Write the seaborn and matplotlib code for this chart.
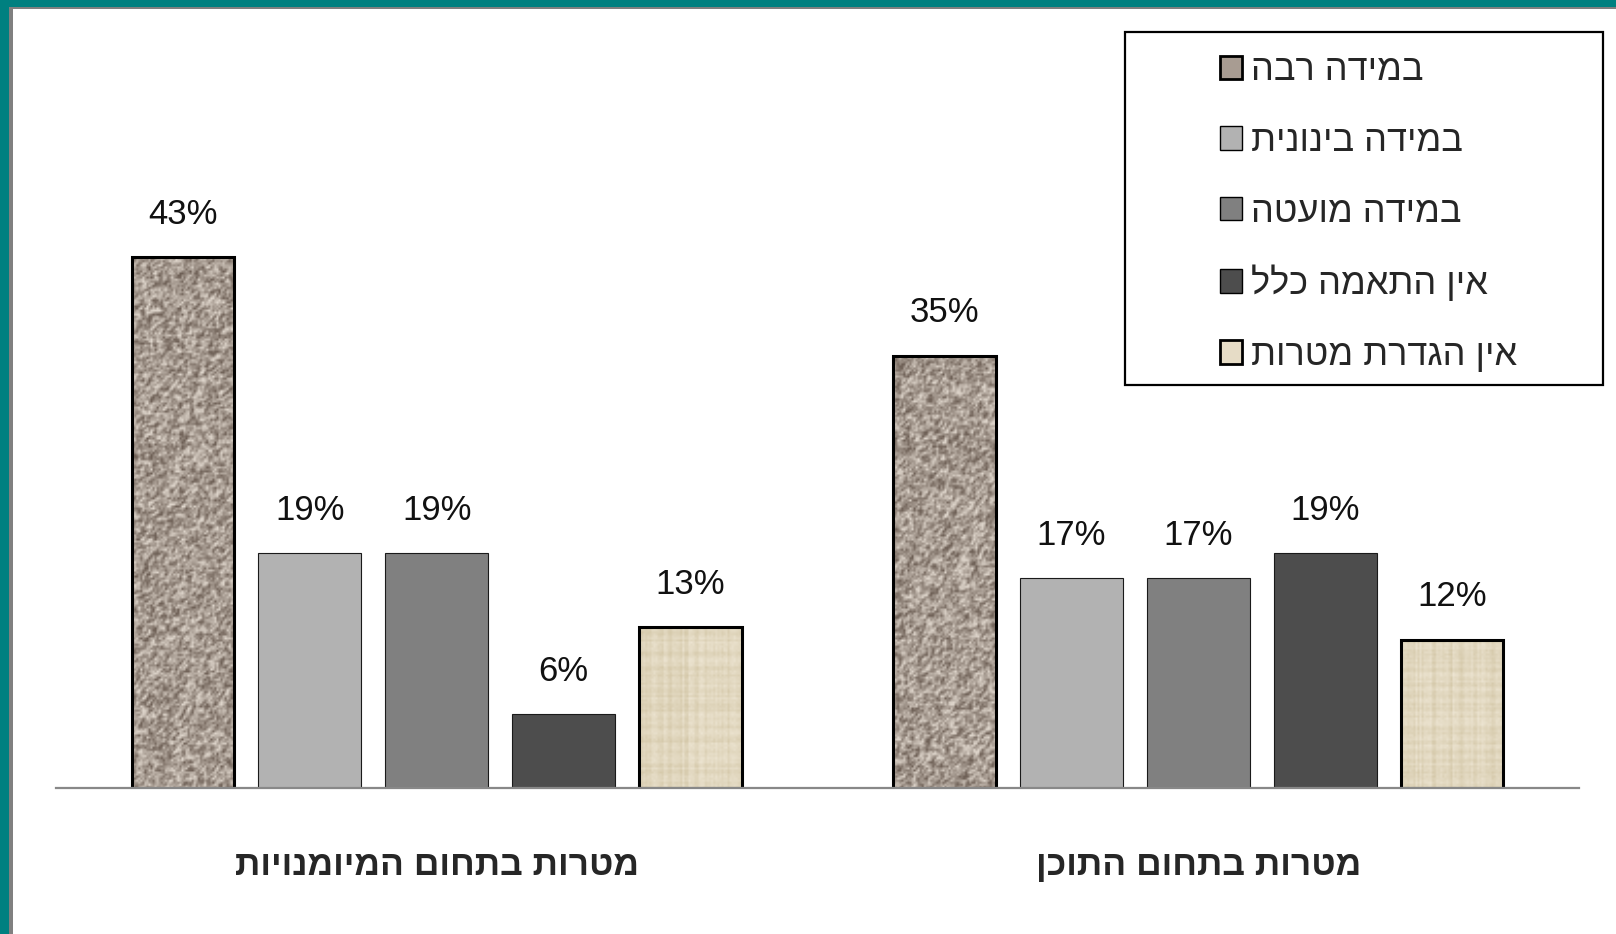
import numpy as np
import pandas as pd
import matplotlib
matplotlib.use('Agg')
import matplotlib.pyplot as plt
import seaborn as sns
from matplotlib.patches import Rectangle, Patch

# data
groups = ['מטרות בתחום המיומנויות', 'מטרות בתחום התוכן']
levels = ['במידה רבה', 'במידה בינונית', 'במידה מועטה', 'אין התאמה כלל', 'אין הגדרת מטרות']
skills_vals = [43, 19, 19, 6, 13]
content_vals = [35, 17, 17, 19, 12]

colors = ['#a89c92', '#b2b2b2', '#808080', '#4d4d4d', '#e6dcc6']


def rtl(s):
    # matplotlib has no bidi support, so flip Hebrew for display
    return s[::-1]


def granite(rows, cols, rng):
    n = rng.random((rows, cols))
    n = (n + np.roll(n, 1, 0) + np.roll(n, 1, 1)) / 3.0
    n = np.clip((n - 0.15) / 0.7, 0, 1)
    dark = np.array([110, 96, 86]) / 255
    light = np.array([222, 213, 203]) / 255
    return dark + (light - dark) * n[..., None]


def canvas(rows, cols, rng):
    base = np.ones((rows, cols, 3)) * np.array([238, 230, 212]) / 255
    col_shade = rng.random(cols) * 0.08
    row_shade = rng.random(rows) * 0.06
    shade = col_shade[None, :] + row_shade[:, None] + rng.random((rows, cols)) * 0.04
    return np.clip(base - shade[..., None] * np.array([0.6, 0.7, 1.0]), 0, 1)


df = pd.DataFrame({
    'group': [groups[0]] * 5 + [groups[1]] * 5,
    'level': levels * 2,
    'value': skills_vals + content_vals,
})

sns.set_style('white')
plt.rcParams['font.family'] = ['Liberation Sans', 'DejaVu Sans']

W, H = 1616, 934
fig = plt.figure(figsize=(W / 100, H / 100), dpi=100)
ax = fig.add_axes([56 / W, 1 - 788 / H, 1523 / W, 617.5 / H])

sns.barplot(data=df, x='group', y='value', hue='level', order=groups,
            hue_order=levels, palette=colors, width=5 / 6, gap=0.19,
            saturation=1, legend=False, ax=ax)

rng = np.random.default_rng(3)
for lvl, cont in zip(levels, ax.containers):
    textured = lvl in (levels[0], levels[4])
    for bar in cont:
        if textured:
            bar.set_edgecolor('black')
            bar.set_linewidth(2.2)
            x0, w, h = bar.get_x(), bar.get_width(), bar.get_height()
            rows = int(h * 6)
            tex = granite(rows, 50, rng) if lvl == levels[0] else canvas(rows, 50, rng)
            im = ax.imshow(tex, extent=[x0, x0 + w, 0, h], aspect='auto',
                           interpolation='bilinear', zorder=bar.get_zorder() - 0.1)
            im.set_clip_path(bar)
            bar.set_facecolor('none')
        else:
            bar.set_edgecolor('#1a1a1a')
            bar.set_linewidth(0.8)
    ax.bar_label(cont, labels=[f'{int(b.get_height())}%' for b in cont],
                 padding=19, fontsize=25, color='#111111')

ax.set_xlim(-0.5, 1.5)
ax.set_ylim(0, 50)
ax.set_aspect('auto')
ax.set_xlabel('')
ax.set_ylabel('')
ax.set_yticks([])
ax.set_xticks([0, 1])
ax.set_xticklabels([rtl(g) for g in groups], fontsize=25.5, fontweight='bold')
ax.tick_params(axis='x', length=0, pad=44)
for side in ['top', 'left', 'right']:
    ax.spines[side].set_visible(False)
ax.spines['bottom'].set_color('#888888')
ax.spines['bottom'].set_linewidth(1.6)

# legend
handles = []
for i, (lvl, c) in enumerate(zip(levels, colors)):
    lw = 2.0 if i in (0, 4) else 1.0
    handles.append(Patch(facecolor=c, edgecolor='black', linewidth=lw, label=rtl(lvl)))
fig.legend(handles=handles, loc='upper left', frameon=False,
           bbox_to_anchor=(1220 / W, 1 - 53 / H), borderpad=0, borderaxespad=0,
           fontsize=26, handlelength=0.62, handleheight=0.62,
           handletextpad=0.25, labelspacing=0.99)
fig.patches.append(Rectangle((1125 / W, 1 - 385 / H), 478 / W, 353 / H,
                             transform=fig.transFigure, fill=False,
                             edgecolor='black', linewidth=1.6))

# teal frame on top and left
fig.patches.append(Rectangle((0, 1 - 9 / H), 1, 9 / H, transform=fig.transFigure,
                             facecolor='#808080', edgecolor='none'))
fig.patches.append(Rectangle((0, 0), 13 / W, 1, transform=fig.transFigure,
                             facecolor='#808080', edgecolor='none'))
fig.patches.append(Rectangle((0, 1 - 7 / H), 1, 7 / H, transform=fig.transFigure,
                             facecolor='#008080', edgecolor='none'))
fig.patches.append(Rectangle((0, 0), 9 / W, 1, transform=fig.transFigure,
                             facecolor='#008080', edgecolor='none'))

fig.savefig('out.png', dpi=100, facecolor='white')
